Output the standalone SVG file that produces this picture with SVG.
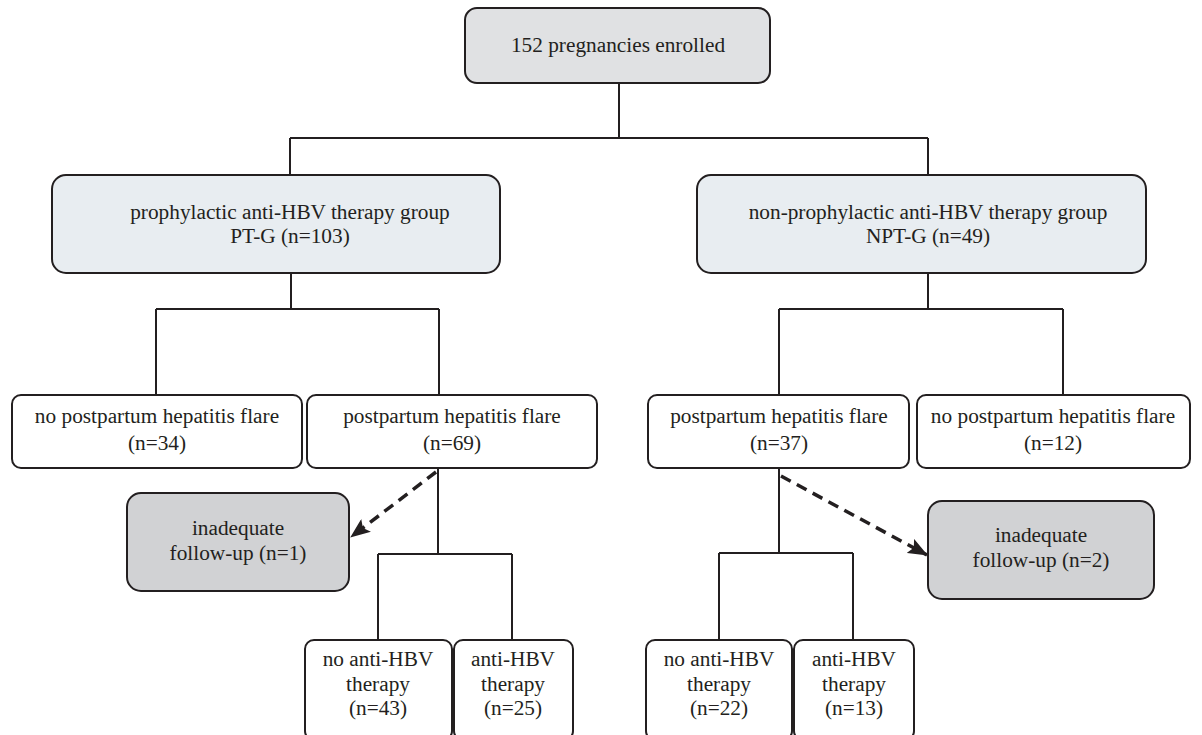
<svg xmlns="http://www.w3.org/2000/svg" width="1202" height="735" viewBox="0 0 1202 735">
<defs>
<style>
.box{stroke:#231f20;stroke-width:2}
.w{fill:#ffffff}
.g{fill:#e0e1e3}
.b{fill:#e8edf1}
.d{fill:#d1d2d4}
text{font-family:"Liberation Serif",serif;font-size:21.3px;fill:#231f20;text-anchor:middle}
.ln{stroke:#231f20;stroke-width:2;fill:none}
.da{stroke:#231f20;stroke-width:3.5;fill:none;stroke-dasharray:11,7}
</style>
<marker id="ah2" markerWidth="20" markerHeight="16" refX="19" refY="8" orient="auto" markerUnits="userSpaceOnUse" viewBox="0 0 20 16">
<path d="M0,0 L20,8 L0,16 L4,8 z" fill="#231f20"/>
</marker>
</defs>
<g id="connectors">
<path class="ln" d="M619,83 V138 M290,138 H928 M290,138 V175 M928,138 V175"/>
<path class="ln" d="M291,273 V309 M156,309 H439 M156,309 V395 M439,309 V395"/>
<path class="ln" d="M928,273 V309 M779,309 H1063 M779,309 V395 M1063,309 V395"/>
<path class="ln" d="M438,468 V554 M378,554 H512 M378,554 V640 M512,554 V640"/>
<path class="ln" d="M779,468 V553 M719,553 H853 M719,553 V640 M853,553 V640"/>
<path class="da" d="M436,472 L351,537" marker-end="url(#ah2)"/>
<path class="da" d="M781,476 L927,555" marker-end="url(#ah2)"/>
</g>
<g id="n-enrolled"><rect class="box g" x="465" y="8" width="305" height="75" rx="12"/><text x="618" y="52">152 pregnancies enrolled</text></g>
<g id="n-ptg"><rect class="box b" x="52" y="175" width="448" height="98" rx="14"/><text x="290" y="219">prophylactic anti-HBV therapy group</text><text x="290" y="243">PT-G (n=103)</text></g>
<g id="n-nptg"><rect class="box b" x="697" y="175" width="449" height="98" rx="14"/><text x="928" y="219">non-prophylactic anti-HBV therapy group</text><text x="928" y="243">NPT-G (n=49)</text></g>
<g id="n-noflare1"><rect class="box w" x="12" y="395" width="290" height="73" rx="9"/><text x="157" y="423">no postpartum hepatitis flare</text><text x="157" y="450">(n=34)</text></g>
<g id="n-flare1"><rect class="box w" x="307" y="395" width="290" height="73" rx="9"/><text x="452" y="423">postpartum hepatitis flare</text><text x="452" y="450">(n=69)</text></g>
<g id="n-flare2"><rect class="box w" x="648" y="395" width="261" height="73" rx="9"/><text x="779" y="423">postpartum hepatitis flare</text><text x="779" y="450">(n=37)</text></g>
<g id="n-noflare2"><rect class="box w" x="917" y="395" width="273" height="73" rx="9"/><text x="1053" y="423">no postpartum hepatitis flare</text><text x="1053" y="450">(n=12)</text></g>
<g id="n-inad1"><rect class="box d" x="127" y="493" width="222" height="98" rx="14"/><text x="238" y="535">inadequate</text><text x="238" y="560">follow-up (n=1)</text></g>
<g id="n-inad2"><rect class="box d" x="928" y="501" width="226" height="98" rx="14"/><text x="1041" y="542">inadequate</text><text x="1041" y="567">follow-up (n=2)</text></g>
<g id="n-noanti1"><rect class="box w" x="305" y="640" width="147" height="100" rx="9"/><text x="378" y="666">no anti-HBV</text><text x="378" y="691">therapy</text><text x="378" y="715">(n=43)</text></g>
<g id="n-anti1"><rect class="box w" x="454" y="640" width="119" height="100" rx="9"/><text x="513" y="666">anti-HBV</text><text x="513" y="691">therapy</text><text x="513" y="715">(n=25)</text></g>
<g id="n-noanti2"><rect class="box w" x="646" y="640" width="146" height="100" rx="9"/><text x="719" y="666">no anti-HBV</text><text x="719" y="691">therapy</text><text x="719" y="715">(n=22)</text></g>
<g id="n-anti2"><rect class="box w" x="794" y="640" width="120" height="100" rx="9"/><text x="854" y="666">anti-HBV</text><text x="854" y="691">therapy</text><text x="854" y="715">(n=13)</text></g>
</svg>
